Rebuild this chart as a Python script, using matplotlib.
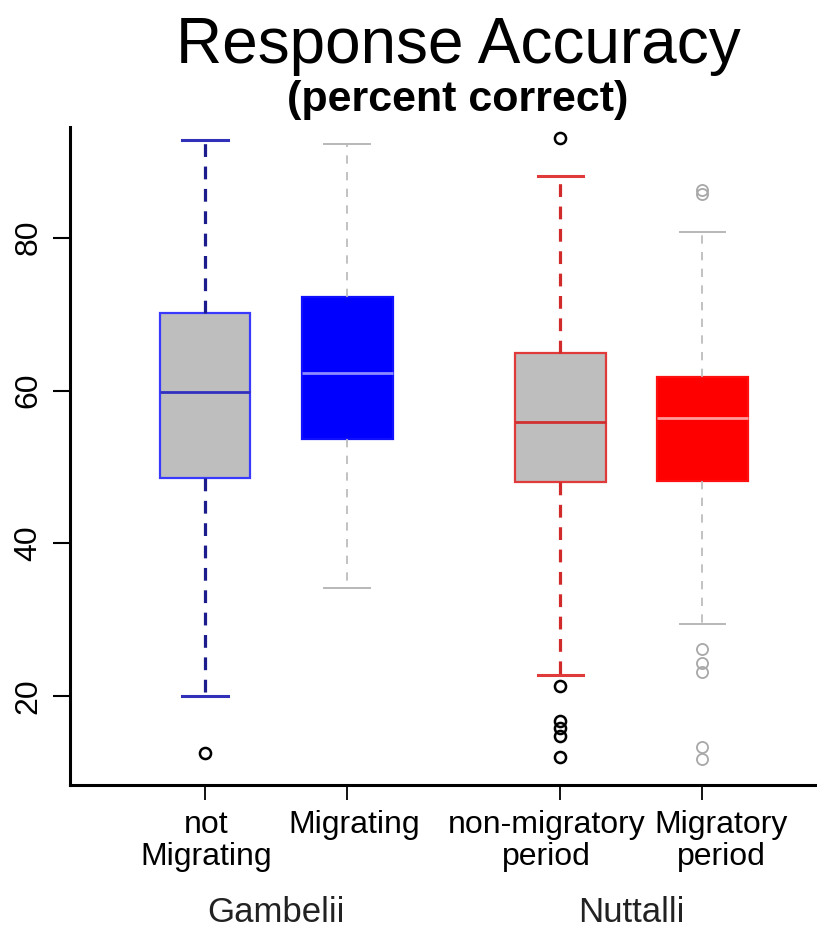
import matplotlib
matplotlib.use("Agg")
import matplotlib.pyplot as plt
import matplotlib.transforms as mtransforms

plt.rcParams['font.family'] = ['Liberation Sans', 'DejaVu Sans']

# box statistics
tick_labels = ["not\nMigrating", "Migrating", "non-migratory\nperiod", "Migratory\nperiod"]
group_labels = ["Gambelii", "Nuttalli"]
positions = [1, 2, 3.5, 4.5]
whislo = [20.0, 34.2, 22.7, 29.4]
q1 = [48.5, 53.7, 48.0, 48.1]
med = [59.8, 62.3, 55.9, 56.4]
q3 = [70.2, 72.3, 64.9, 61.8]
whishi = [92.8, 92.3, 88.1, 80.7]
fliers = [
    [12.5],
    [],
    [93.1, 21.3, 16.7, 15.8, 14.8, 12.0],
    [86.2, 85.7, 26.1, 24.3, 23.1, 13.3, 11.7],
]

# styles per box
faces = ['#bebebe', '#0000ff', '#bebebe', '#ff0000']
edges = ['#3a3aff', '#1010ff', '#e03a3a', '#ff1010']
medcols = ['#3030c0', '#8c8cff', '#d03030', '#ff9a9a']
whiskcols = ['#1c1c8c', '#b8b8b8', '#d02a2a', '#b8b8b8']
capcols = ['#3030b8', '#b8b8b8', '#e03a3a', '#b8b8b8']
fliercols = ['black', 'black', 'black', '#a8a8a8']
thick = [True, False, True, False]
label_shift_px = [1, 7, -14, 19]

fig = plt.figure(figsize=(8.17, 9.32), dpi=100)
W, H = 817, 932
ax = fig.add_axes([70 / W, (H - 785) / H, (846 - 70) / W, (785 - 127) / H])

stats = []
for i in range(len(positions)):
    stats.append(dict(whislo=whislo[i], q1=q1[i], med=med[i], q3=q3[i],
                      whishi=whishi[i], fliers=fliers[i]))

bw = 0.64
res = ax.bxp(stats, positions=positions, widths=bw, capwidths=bw * 0.5,
             patch_artist=True, showfliers=True, manage_ticks=False)

for i in range(len(positions)):
    b = res['boxes'][i]
    b.set_facecolor(faces[i])
    b.set_edgecolor(edges[i])
    b.set_linewidth(1.6)
    res['medians'][i].set_color(medcols[i])
    res['medians'][i].set_linewidth(2.0)
    for w in res['whiskers'][2 * i:2 * i + 2]:
        w.set_color(whiskcols[i])
        if thick[i]:
            w.set_linewidth(2.3)
            w.set_linestyle((0, (4, 3)))
        else:
            w.set_linewidth(1.2)
            w.set_linestyle((0, (5, 5)))
    for c in res['caps'][2 * i:2 * i + 2]:
        c.set_color(capcols[i])
        c.set_linewidth(2.2 if thick[i] else 1.4)
    f = res['fliers'][i]
    f.set_marker('o')
    f.set_markerfacecolor('none')
    f.set_markeredgecolor(fliercols[i])
    f.set_markersize(8)
    f.set_markeredgewidth(1.8 if fliercols[i] == 'black' else 1.3)

ax.set_xlim(0.05, 5.51)
ax.set_ylim(8.35, 94.5)

for s in ['top', 'right']:
    ax.spines[s].set_visible(False)
for s in ['left', 'bottom']:
    ax.spines[s].set_linewidth(2.2)

ax.set_yticks([20, 40, 60, 80])
ax.set_yticklabels(['20', '40', '60', '80'], rotation=90, va='center')
ax.set_xticks(positions)
ax.set_xticklabels(tick_labels, linespacing=1.1)
ax.tick_params(axis='y', length=12, width=1.5, pad=7, labelsize=23)
ax.tick_params(axis='x', length=11, width=1.3, pad=7, labelsize=23)

# the reference nudges its tick labels sideways
for lab, dx in zip(ax.get_xticklabels(), label_shift_px):
    lab.set_transform(lab.get_transform() +
                      mtransforms.ScaledTranslation(dx / 100, 0, fig.dpi_scale_trans))

# group labels under each pair
trans = mtransforms.blended_transform_factory(ax.transData, fig.transFigure)
group_x = [(positions[0] + positions[1]) / 2, (positions[2] + positions[3]) / 2]
for gx, g in zip(group_x, group_labels):
    ax.text(gx, (H - 922) / H, g, transform=trans, ha='center', va='baseline',
            fontsize=25, color='#222222')

fig.text(458 / W, 1 - 63 / H, "Response Accuracy", ha='center', va='baseline',
         fontsize=46)
fig.text(458 / W, 1 - 111 / H, "(percent correct)", ha='center', va='baseline',
         fontsize=31, fontweight='bold')

fig.savefig("out.png", dpi=100)
